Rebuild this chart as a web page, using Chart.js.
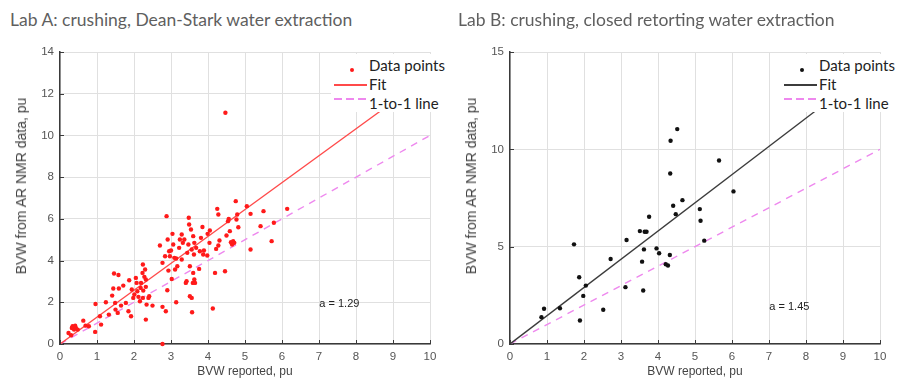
<!DOCTYPE html>
<html>
<head>
<meta charset="utf-8">
<script src="https://cdn.jsdelivr.net/npm/chart.js@4/dist/chart.umd.min.js"></script>
<style>
  html, body { margin: 0; padding: 0; background: #fff; }
  #page { position: relative; width: 901px; height: 379px; overflow: hidden; }
  .panel { position: absolute; top: 0; height: 379px; }
  .panel canvas { position: absolute; left: 0; top: 0; }
  .title { position: absolute; top: 9px; font-family: Lato, "Open Sans", sans-serif; font-size: 17.5px; line-height: 21px; color: #5f5f5f; white-space: nowrap; }
  .ytitle { position: absolute; left: 21px; top: 186px; width: 0; height: 0; }
  .ytitle span { position: absolute; left: 0; top: 0; transform: translate(-50%, -50%) rotate(-90deg);
                 font-family: "Liberation Sans", Arial, sans-serif; font-size: 14px; color: #444; white-space: nowrap; }
  .legend { position: absolute; left: 331px; top: 54px; width: 120px; height: 58px; background: #fff;
            font-family: Lato, "Open Sans", sans-serif; font-size: 15px; color: #222; }
  .legend .row { position: absolute; left: 0; height: 18px; width: 120px; }
  .legend .txt { position: absolute; left: 38px; top: 0; line-height: 18px; white-space: nowrap; }
  .legend .sym { position: absolute; left: 3px; width: 33px; height: 1.5px; }
  .legend .dot { position: absolute; left: 19px; width: 4px; height: 4px; border-radius: 50%; }
</style>
</head>
<body>
<div id="page">
  <div class="panel" style="left:0;width:450px">
    <div class="title" style="left:10px">Lab A: crushing, Dean-Stark water extraction</div>
    <canvas id="chartA" width="450" height="379"></canvas>
    <div class="ytitle"><span>BVW from AR NMR data, pu</span></div>
    <div class="legend" id="legendA"></div>
  </div>
  <div class="panel" style="left:450px;width:451px">
    <div class="title" style="left:8px">Lab B: crushing, closed retorting water extraction</div>
    <canvas id="chartB" width="451" height="379"></canvas>
    <div class="ytitle"><span>BVW from AR NMR data, pu</span></div>
    <div class="legend" id="legendB"></div>
  </div>
</div>
<script>
// Lab A samples: BVW reported by the lab vs BVW from AR NMR data (pu)
const labA_reported = [
  0.23, 0.30, 0.34, 0.38, 0.41, 0.43, 0.32, 0.48, 0.63, 0.69, 0.78, 0.96, 0.95, 1.08, 1.11,
  1.24, 1.32, 1.41, 1.44, 1.46, 1.58, 1.59, 1.49, 1.50, 1.56, 1.65, 1.71, 1.78, 1.87, 1.85,
  1.92, 1.94, 1.98, 2.01, 2.05, 2.07, 2.09, 2.12, 2.16, 2.18, 2.23, 2.24, 2.25, 2.28, 2.30,
  2.32, 2.32, 2.34, 2.32, 2.39, 2.41, 2.50, 2.19, 2.24,
  2.70, 2.77, 2.77, 2.77, 2.86, 2.88, 2.84, 2.90, 2.91, 2.93, 2.95, 2.97, 3.00, 3.02, 3.04,
  3.06, 3.09, 3.11, 3.14, 3.14, 3.17, 3.22, 3.24, 3.29, 3.29, 3.32, 3.36, 3.40, 3.42, 3.44,
  3.47, 3.48, 3.49, 3.51, 3.51, 3.54, 3.56, 3.56, 3.57, 3.59, 3.60, 3.62, 3.60, 3.63, 3.65,
  3.63, 3.68, 3.76, 3.78, 3.81, 3.85, 3.87, 3.89, 3.98, 3.99, 4.04, 4.05, 4.13, 4.19, 4.22,
  4.25, 4.28, 4.28, 4.31, 4.46, 4.50, 4.54, 4.56, 4.59, 4.62, 4.65, 4.68, 4.71, 4.75, 4.77,
  4.79, 4.82, 5.05, 5.15, 5.15, 5.42, 5.50, 5.72, 5.78, 6.14, 4.47
];
const labA_nmr = [
  0.53, 0.42, 0.85, 0.69, 0.88, 0.77, 0.77, 0.69, 1.12, 0.88, 0.85, 1.92, 0.58, 1.33, 0.93,
  2.00, 1.41, 2.32, 2.66, 3.38, 3.31, 2.66, 1.97, 1.65, 1.49, 1.84, 2.80, 1.97, 3.06, 1.57,
  1.33, 2.61, 2.21, 2.37, 3.17, 2.93, 2.53, 2.26, 2.05, 2.69, 3.41, 3.81, 2.56, 3.22, 3.57,
  3.09, 2.74, 1.89, 1.17, 2.21, 2.29, 1.84, 2.93, 2.21,
  4.72, 3.89, 1.78, 0.00, 1.57, 6.13, 4.21, 2.58, 5.01, 3.52, 4.45, 4.21, 4.48, 3.12, 5.28,
  4.77, 4.13, 3.57, 2.00, 4.10, 3.73, 4.61, 5.01, 5.25, 4.05, 4.85, 5.01, 2.93, 3.01, 4.37,
  4.77, 6.05, 5.73, 3.73, 2.29, 5.49, 4.53, 2.21, 1.52, 2.93, 5.17, 4.29, 3.41, 3.09, 2.93,
  4.85, 4.61, 3.60, 4.45, 5.09, 5.61, 4.29, 4.48, 4.24, 5.28, 4.85, 5.44, 1.70, 3.41, 4.56,
  6.48, 6.21, 4.72, 4.96, 3.49, 5.20, 5.89, 6.00, 5.41, 4.88, 4.77, 4.93, 4.85, 6.85, 5.97,
  6.21, 5.60, 6.61, 6.24, 4.53, 5.65, 6.37, 4.93, 5.81, 6.48, 11.09
];

// Lab B samples
const labB_reported = [
  0.85, 0.92, 1.35, 1.73, 1.87, 1.89, 1.98, 2.05, 2.52, 2.72, 3.12, 3.15, 3.51, 3.57, 3.60,
  3.62, 3.64, 3.69, 3.76, 3.96, 4.03, 4.21, 4.27, 4.32, 4.41, 4.48, 4.66, 5.13, 5.15, 5.25,
  6.04, 4.34, 4.52, 4.33, 5.65
];
const labB_nmr = [
  1.38, 1.81, 1.84, 5.12, 3.43, 1.21, 2.47, 3.00, 1.76, 4.37, 2.92, 5.34, 5.80, 4.23, 2.75,
  4.86, 5.77, 5.77, 6.54, 4.91, 4.66, 4.10, 4.03, 4.57, 7.10, 6.67, 7.39, 6.93, 6.33, 5.31,
  7.84, 10.44, 11.04, 8.76, 9.43
];

// Fitted slopes (y = a * x)
const labA_slope = 1.29;
const labB_slope = 1.45;

// Axis ranges and tick steps
const xAxisRange = [0, 10];
const labA_yRange = [0, 14];
const labB_yRange = [0, 15];
const xTickStep = 1;
const labA_yTickStep = 2;
const labB_yTickStep = 5;

const AXIS_FONT = 'Liberation Sans, Arial, sans-serif';
const ONE_TO_ONE_COLOR = '#ee88ee';

function toPoints(xs, ys) { return xs.map((x, i) => ({ x: x, y: ys[i] })); }

// Small inward tick marks on the left and bottom axes, plus the slope annotation
const innerTicks = {
  id: 'innerTicks',
  afterDraw(chart, args, opts) {
    const { ctx, chartArea } = chart;
    const xs = chart.scales.x, ys = chart.scales.y;
    ctx.save();
    ctx.strokeStyle = '#3a3a3a';
    ctx.lineWidth = 1;
    xs.ticks.forEach(t => {
      const px = Math.round(xs.getPixelForValue(t.value)) + 0.5;
      ctx.beginPath(); ctx.moveTo(px, chartArea.bottom); ctx.lineTo(px, chartArea.bottom - 4); ctx.stroke();
    });
    ys.ticks.forEach(t => {
      const py = Math.round(ys.getPixelForValue(t.value)) + 0.5;
      ctx.beginPath(); ctx.moveTo(chartArea.left, py); ctx.lineTo(chartArea.left + 4, py); ctx.stroke();
    });
    if (opts.text) {
      ctx.fillStyle = '#222';
      ctx.font = '11px ' + AXIS_FONT;
      ctx.textAlign = 'center';
      ctx.textBaseline = 'middle';
      ctx.fillText(opts.text, xs.getPixelForValue(opts.at[0]), ys.getPixelForValue(opts.at[1]));
    }
    ctx.restore();
  }
};

function makeChart(id, pts, ptColor, slope, fitColor, yRange, yStep, rightPad) {
  const fitLine = [{ x: xAxisRange[0], y: slope * xAxisRange[0] }, { x: xAxisRange[1], y: slope * xAxisRange[1] }];
  const oneToOne = [{ x: xAxisRange[0], y: xAxisRange[0] }, { x: xAxisRange[1], y: xAxisRange[1] }];
  return new Chart(document.getElementById(id), {
    type: 'scatter',
    data: {
      datasets: [
        { label: '1-to-1 line', data: oneToOne, showLine: true, borderColor: ONE_TO_ONE_COLOR, borderWidth: 1.4,
          borderDash: [7, 6], pointRadius: 0, order: 3 },
        { label: 'Fit', data: fitLine, showLine: true, borderColor: fitColor, borderWidth: 1.4,
          pointRadius: 0, order: 2 },
        { label: 'Data points', data: pts, backgroundColor: ptColor, borderColor: ptColor, borderWidth: 0,
          pointRadius: 2.2, clip: 6, order: 1 }
      ]
    },
    options: {
      responsive: false,
      animation: false,
      events: [],
      layout: { padding: { left: 0, right: rightPad, top: 52, bottom: 0 } },
      plugins: {
        legend: { display: false },
        tooltip: { enabled: false },
        innerTicks: { text: 'a = ' + slope.toFixed(2), at: [7.55, 1.9] }
      },
      scales: {
        x: {
          type: 'linear', min: xAxisRange[0], max: xAxisRange[1],
          afterFit(s) { s.height = 35; },
          grid: { color: '#e0e0e0', lineWidth: 1, drawTicks: false },
          border: { color: '#3a3a3a', width: 1.5 },
          ticks: { stepSize: xTickStep, padding: 6, color: '#555', font: { family: AXIS_FONT, size: 11.5 } },
          title: { display: true, text: 'BVW reported, pu', color: '#444', padding: { top: 0, bottom: 0 },
                   font: { family: AXIS_FONT, size: 12 } }
        },
        y: {
          type: 'linear', min: yRange[0], max: yRange[1],
          afterFit(s) { s.width = 60; },
          grid: { color: '#e0e0e0', lineWidth: 1, drawTicks: false },
          border: { color: '#3a3a3a', width: 1.5 },
          ticks: { stepSize: yStep, padding: 6, color: '#555', font: { family: AXIS_FONT, size: 11.5 } },
          title: { display: false }
        }
      }
    },
    plugins: [innerTicks]
  });
}

makeChart('chartA', toPoints(labA_reported, labA_nmr), '#ff1a1a', labA_slope, '#ff4a4a', labA_yRange, labA_yTickStep, 20);
makeChart('chartB', toPoints(labB_reported, labB_nmr), '#111111', labB_slope, '#3c3c3c', labB_yRange, labB_yTickStep, 21);

// Legend boxes drawn over the top-right corner of each plot
function buildLegend(id, ptColor, fitColor) {
  const el = document.getElementById(id);
  const rows = [
    { text: 'Data points', kind: 'dot', symTop: 12 },
    { text: 'Fit', kind: 'solid', symTop: 9 },
    { text: '1-to-1 line', kind: 'dash', symTop: 4 }
  ];
  rows.forEach((r, i) => {
    const row = document.createElement('div');
    row.className = 'row';
    row.style.top = (2 + i * 19) + 'px';
    const sym = document.createElement('div');
    sym.style.top = r.symTop + 'px';
    if (r.kind === 'dot') {
      sym.className = 'dot';
      sym.style.background = ptColor;
    } else if (r.kind === 'solid') {
      sym.className = 'sym';
      sym.style.background = fitColor;
    } else {
      sym.className = 'sym';
      sym.style.background = 'repeating-linear-gradient(90deg, ' + ONE_TO_ONE_COLOR + ' 0 8px, transparent 8px 12px)';
    }
    const txt = document.createElement('div');
    txt.className = 'txt';
    txt.textContent = r.text;
    row.appendChild(sym);
    row.appendChild(txt);
    el.appendChild(row);
  });
}
buildLegend('legendA', '#ff1a1a', '#ff4a4a');
buildLegend('legendB', '#111111', '#3c3c3c');
</script>
</body>
</html>
